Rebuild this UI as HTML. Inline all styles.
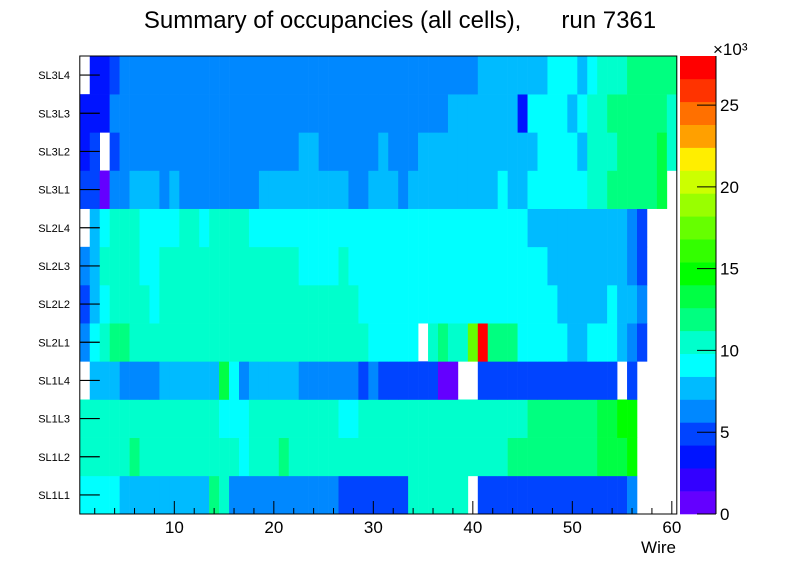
<!DOCTYPE html>
<html><head><meta charset="utf-8"><style>
html,body{margin:0;padding:0;background:#fff;}
svg{display:block;font-family:"Liberation Sans",sans-serif;}
</style></head><body>
<svg id="chart" width="796" height="572" viewBox="0 0 796 572" xmlns="http://www.w3.org/2000/svg">
<rect x="0" y="0" width="796" height="572" fill="#fff"/>
<text x="400" y="28" font-size="24" text-anchor="middle" xml:space="preserve">Summary of occupancies (all cells),      run 7361</text>
<g id="cells"></g>
<g id="axes"></g>
<g id="palette"></g>
</svg>
<script>
const layers = ["SL1L1","SL1L2","SL1L3","SL1L4","SL2L1","SL2L2","SL2L3","SL2L4","SL3L1","SL3L2","SL3L3","SL3L4"];
const xTicks = [10,20,30,40,50,60];
const zTicks = [0,5,10,15,20,25];
// occupancy per wire (units of 10^3), wires 1..60
const rowSL1L1 = [9.1,9.1,9.1,9.1,7.7,7.7,7.7,7.7,7.7,7.7,7.7,7.7,7.7,11.9,10.5,6.3,6.3,6.3,6.3,6.3,6.3,6.3,6.3,6.3,6.3,6.3,4.9,4.9,4.9,4.9,4.9,4.9,4.9,10.5,10.5,10.5,10.5,10.5,10.5,0,4.9,4.9,4.9,4.9,4.9,4.9,4.9,4.9,4.9,4.9,4.9,4.9,4.9,4.9,4.9,6.3,0,0,0,0];
const rowSL1L2 = [10.5,10.5,10.5,10.5,10.5,11.9,10.5,10.5,10.5,10.5,10.5,10.5,10.5,10.5,10.5,10.5,9.1,10.5,10.5,10.5,11.9,10.5,10.5,10.5,10.5,10.5,10.5,10.5,10.5,10.5,10.5,10.5,10.5,10.5,10.5,10.5,10.5,10.5,10.5,10.5,10.5,10.5,10.5,11.9,11.9,11.9,11.9,11.9,11.9,11.9,11.9,11.9,13.3,13.3,13.3,14.7,0,0,0,0];
const rowSL1L3 = [10.5,10.5,10.5,10.5,10.5,10.5,10.5,10.5,10.5,10.5,10.5,10.5,10.5,10.5,9.1,9.1,9.1,10.5,10.5,10.5,10.5,10.5,10.5,10.5,10.5,10.5,9.1,9.1,10.5,10.5,10.5,10.5,10.5,10.5,10.5,10.5,10.5,10.5,10.5,10.5,10.5,10.5,10.5,10.5,10.5,11.9,11.9,11.9,11.9,11.9,11.9,11.9,13.3,13.3,14.7,14.7,0,0,0,0];
const rowSL1L4 = [0,7.7,7.7,7.7,6.3,6.3,6.3,6.3,7.7,7.7,7.7,7.7,7.7,7.7,13.3,9.1,6.3,7.7,7.7,7.7,7.7,7.7,6.3,6.3,6.3,6.3,6.3,6.3,4.9,6.3,4.9,4.9,4.9,4.9,4.9,4.9,0.7,0.7,0,0,4.9,4.9,4.9,4.9,4.9,4.9,4.9,4.9,4.9,4.9,4.9,4.9,4.9,4.9,0,4.9,0,0,0,0];
const rowSL2L1 = [6.3,9.1,10.5,11.9,11.9,10.5,10.5,10.5,10.5,10.5,10.5,10.5,10.5,10.5,10.5,10.5,10.5,10.5,10.5,10.5,10.5,10.5,10.5,10.5,10.5,10.5,10.5,10.5,10.5,9.1,9.1,9.1,9.1,9.1,0,10.5,11.9,10.5,10.5,17.5,27.3,11.9,11.9,11.9,9.1,9.1,9.1,9.1,9.1,7.7,7.7,9.1,9.1,9.1,7.7,6.3,4.9,0,0,0];
const rowSL2L2 = [4.9,7.7,9.1,10.5,10.5,10.5,10.5,9.1,10.5,10.5,10.5,10.5,10.5,10.5,10.5,10.5,10.5,10.5,10.5,10.5,10.5,10.5,10.5,10.5,10.5,10.5,10.5,10.5,9.1,9.1,9.1,9.1,9.1,9.1,9.1,9.1,9.1,9.1,9.1,9.1,9.1,9.1,9.1,9.1,9.1,9.1,9.1,9.1,7.7,7.7,7.7,7.7,7.7,9.1,7.7,7.7,6.3,0,0,0];
const rowSL2L3 = [6.3,7.7,10.5,10.5,10.5,10.5,9.1,9.1,10.5,10.5,10.5,10.5,10.5,10.5,10.5,10.5,10.5,10.5,10.5,10.5,10.5,10.5,9.1,9.1,9.1,9.1,10.5,9.1,9.1,9.1,9.1,9.1,9.1,9.1,9.1,9.1,9.1,9.1,9.1,9.1,9.1,9.1,9.1,9.1,9.1,9.1,9.1,7.7,7.7,7.7,7.7,7.7,7.7,7.7,7.7,6.3,4.9,0,0,0];
const rowSL2L4 = [0,7.7,9.1,10.5,10.5,10.5,9.1,9.1,9.1,9.1,10.5,10.5,9.1,10.5,10.5,10.5,10.5,9.1,9.1,9.1,9.1,9.1,9.1,9.1,9.1,9.1,9.1,9.1,9.1,9.1,9.1,9.1,9.1,9.1,9.1,9.1,9.1,9.1,9.1,9.1,9.1,9.1,9.1,9.1,9.1,7.7,7.7,7.7,7.7,7.7,7.7,7.7,7.7,7.7,7.7,6.3,4.9,0,0,0];
const rowSL3L1 = [4.9,4.9,0.7,6.3,6.3,7.7,7.7,7.7,6.3,7.7,6.3,6.3,6.3,6.3,6.3,6.3,6.3,6.3,7.7,7.7,7.7,7.7,7.7,7.7,7.7,7.7,7.7,6.3,6.3,7.7,7.7,7.7,6.3,7.7,7.7,7.7,7.7,7.7,7.7,7.7,7.7,7.7,9.1,7.7,7.7,9.1,9.1,9.1,9.1,9.1,9.1,10.5,10.5,11.9,11.9,11.9,11.9,11.9,13.3,0];
const rowSL3L2 = [3.5,4.9,0,4.9,6.3,6.3,6.3,6.3,6.3,6.3,6.3,6.3,6.3,6.3,6.3,6.3,6.3,6.3,6.3,6.3,6.3,6.3,7.7,7.7,6.3,6.3,6.3,6.3,6.3,6.3,7.7,6.3,6.3,6.3,7.7,7.7,7.7,7.7,7.7,7.7,7.7,7.7,7.7,7.7,7.7,7.7,9.1,9.1,9.1,9.1,7.7,10.5,10.5,10.5,11.9,11.9,11.9,11.9,13.3,10.5];
const rowSL3L3 = [3.5,3.5,3.5,6.3,6.3,6.3,6.3,6.3,6.3,6.3,6.3,6.3,6.3,6.3,6.3,6.3,6.3,6.3,6.3,6.3,6.3,6.3,6.3,6.3,6.3,6.3,6.3,6.3,6.3,6.3,6.3,6.3,6.3,6.3,6.3,6.3,6.3,7.7,7.7,7.7,7.7,7.7,7.7,7.7,3.5,9.1,9.1,9.1,9.1,7.7,9.1,10.5,10.5,11.9,11.9,11.9,11.9,11.9,11.9,10.5];
const rowSL3L4 = [0,3.5,3.5,4.9,6.3,6.3,6.3,6.3,6.3,6.3,6.3,6.3,6.3,6.3,6.3,6.3,6.3,6.3,6.3,6.3,6.3,6.3,6.3,6.3,6.3,6.3,6.3,6.3,6.3,6.3,6.3,6.3,6.3,6.3,6.3,6.3,6.3,6.3,6.3,6.3,7.7,7.7,7.7,7.7,7.7,7.7,7.7,9.1,9.1,9.1,7.7,9.1,10.5,10.5,10.5,11.9,11.9,11.9,11.9,11.9];
const rows = [rowSL1L1,rowSL1L2,rowSL1L3,rowSL1L4,rowSL2L1,rowSL2L2,rowSL2L3,rowSL2L4,rowSL3L1,rowSL3L2,rowSL3L3,rowSL3L4];
const zMax = 28;

const NS="http://www.w3.org/2000/svg";
const PL=79.8, PR=676.8, PT=56, PB=514;
const xMin=0.5, xMax=60.5;
const colors=["#6400ff","#3300ff","#0014ff","#0044ff","#0088ff","#00bbff","#00ffff","#00ffcc","#00ff80","#00ff44","#00ff00","#33ff00","#66ff00","#99ff00","#ccff00","#ffee00","#ffa000","#ff7000","#ff3300","#ff0000"];
function xs(v){return PL+(v-xMin)/(xMax-xMin)*(PR-PL);}
function ys(i){return PB-i*(PB-PT)/layers.length;}
function zs(v){return PB-v/zMax*(PB-PT);}
function colorFor(v){let k=Math.floor(v/zMax*colors.length);if(k>=colors.length)k=colors.length-1;if(k<0)k=0;return colors[k];}
function mk(tag,attrs,parent){const e=document.createElementNS(NS,tag);for(const k in attrs)e.setAttribute(k,attrs[k]);parent.appendChild(e);return e;}

const cells=document.getElementById('cells');
rows.forEach((row,r)=>{
  row.forEach((v,w)=>{
    if(v<=0)return;
    const x0=xs(w+0.5), x1=xs(w+1.5);
    const e=mk('rect',{x:x0.toFixed(2),y:ys(r+1).toFixed(2),width:(x1-x0+0.3).toFixed(2),height:((PB-PT)/layers.length+0.3).toFixed(2),fill:colorFor(v)},cells);
    
    
  });
});

const axes=document.getElementById('axes');
let fr=mk('rect',{x:PL,y:PT,width:PR-PL,height:PB-PT,fill:'none',stroke:'#000','stroke-width':1},axes);


layers.forEach((name,i)=>{
  const yc=(ys(i)+ys(i+1))/2;
  let t=mk('line',{x1:PL,x2:PL+20,y1:yc,y2:yc,stroke:'#000','stroke-width':1.2},axes);
  
  
  let l=mk('text',{x:70,y:yc+4,'font-size':11,'text-anchor':'end'},axes);
  l.textContent=name;
  
  
});
for(let v=2;v<=60;v+=2){
  const major=v%10===0;
  let t=mk('line',{x1:xs(v),x2:xs(v),y1:PB,y2:PB-(major?13:6),stroke:'#000','stroke-width':1},axes);
  
  
}
xTicks.forEach(v=>{
  let l=mk('text',{x:xs(v),y:533,'font-size':17,'text-anchor':'middle'},axes);
  l.textContent=v;
  
  
});
let xt=mk('text',{x:676,y:553,'font-size':17,'text-anchor':'end'},axes);
xt.textContent='Wire';



const pal=document.getElementById('palette');
const PX0=680, PX1=716;
colors.forEach((c,i)=>{
  const v0=i*zMax/colors.length, v1=(i+1)*zMax/colors.length;
  let r=mk('rect',{x:PX0,y:zs(v1),width:PX1-PX0,height:zs(v0)-zs(v1)+0.3,fill:c},pal);
  
  
});
let pl=mk('line',{x1:PX1,x2:PX1,y1:PT,y2:PB,stroke:'#000','stroke-width':1},pal);


zTicks.forEach(v=>{
  let t=mk('line',{x1:PX1-19,x2:PX1,y1:zs(v),y2:zs(v),stroke:'#000','stroke-width':1},pal);
  
  
  let l=mk('text',{x:720,y:zs(v)+6,'font-size':17},pal);
  l.textContent=v;
  
  
});
let ex=mk('text',{x:713,y:55,'font-size':17},pal);
ex.textContent='×10³';


</script>
</body></html>
